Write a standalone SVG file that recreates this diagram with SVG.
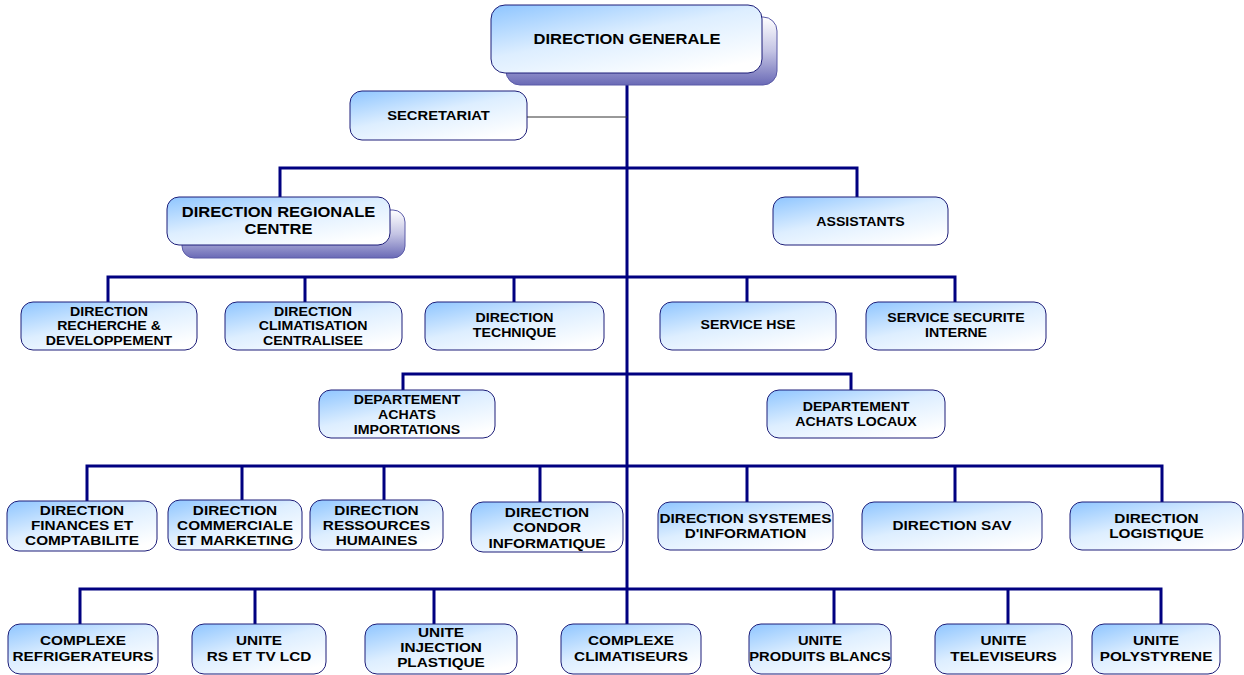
<svg xmlns="http://www.w3.org/2000/svg" width="1244" height="675" viewBox="0 0 1244 675">
<defs>
<linearGradient id="gBox" x1="0" y1="0" x2="0.75" y2="1">
<stop offset="0" stop-color="#8ec5ff"/>
<stop offset="0.5" stop-color="#ddeeff"/>
<stop offset="1" stop-color="#ffffff"/>
</linearGradient>
<linearGradient id="gShadow" x1="0" y1="0" x2="0" y2="1">
<stop offset="0" stop-color="#ffffff"/>
<stop offset="0.5" stop-color="#c4c4e4"/>
<stop offset="1" stop-color="#6a6ab6"/>
</linearGradient>
</defs>
<style>
.box{fill:url(#gBox);stroke:#1d1d78;stroke-width:1}
.shadow{fill:url(#gShadow);stroke:#5a5aa8;stroke-width:1}
.t{font-family:"Liberation Sans",Arial,sans-serif;font-weight:bold;fill:#000;text-anchor:middle}
.f12{font-size:12px}
.f125{font-size:12.5px}
.f13{font-size:13px}
.f14{font-size:14px}
.bus{fill:none;stroke:#000080;stroke-width:3;stroke-linejoin:miter}
.thin{fill:none;stroke:#333;stroke-width:1}
</style>
<g id="connectors">
<path class="bus" d="M627 73 V624"/>
<path class="thin" d="M527 117 H627"/>
<path class="bus" d="M280 197 V168 H857 V197"/>
<path class="bus" d="M108 302 V277 H955 V302 M305 277 V302 M514 277 V302 M747 277 V302"/>
<path class="bus" d="M403 390 V374 H851 V390"/>
<path class="bus" d="M87 502 V466 H1162 V502 M242 466 V500 M384 466 V500 M540 466 V502 M747 466 V502 M955 466 V502"/>
<path class="bus" d="M80 624 V589 H1161 V624 M255 589 V624 M434 589 V624 M834 589 V624 M1008 589 V624"/>
</g>
<g id="n-dg">
<rect class="shadow" x="506" y="17" width="271" height="68" rx="14"/>
<rect class="box" x="491" y="5" width="271" height="68" rx="14"/>
<g transform="translate(627 0) scale(1.18 1)"><text class="t f14" x="0" y="44">DIRECTION GENERALE</text></g>
</g>
<g id="n-sec">
<rect class="box" x="350" y="91" width="177" height="49" rx="12"/>
<g transform="translate(438.5 0) scale(1.18 1)"><text class="t f125" x="0" y="120">SECRETARIAT</text></g>
</g>
<g id="n-drc">
<rect class="shadow" x="182" y="210" width="223" height="48" rx="12"/>
<rect class="box" x="167" y="197" width="223" height="48" rx="12"/>
<g transform="translate(278.5 0) scale(1.18 1)"><text class="t f14" x="0" y="217">DIRECTION REGIONALE</text><text class="t f14" x="0" y="234">CENTRE</text></g>
</g>
<g id="n-ast">
<rect class="box" x="773" y="197" width="175" height="48" rx="12"/>
<g transform="translate(860.5 0) scale(1.18 1)"><text class="t f12" x="0" y="226">ASSISTANTS</text></g>
</g>
<g id="n-rd">
<rect class="box" x="21" y="302" width="176" height="48" rx="12"/>
<g transform="translate(109 0) scale(1.18 1)"><text class="t f12" x="0" y="316">DIRECTION</text><text class="t f12" x="0" y="330.5">RECHERCHE &amp;</text><text class="t f12" x="0" y="345">DEVELOPPEMENT</text></g>
</g>
<g id="n-clim">
<rect class="box" x="225" y="302" width="177" height="48" rx="12"/>
<g transform="translate(313 0) scale(1.18 1)"><text class="t f12" x="0" y="316">DIRECTION</text><text class="t f12" x="0" y="330.5">CLIMATISATION</text><text class="t f12" x="0" y="345">CENTRALISEE</text></g>
</g>
<g id="n-tech">
<rect class="box" x="425" y="302" width="179" height="48" rx="12"/>
<g transform="translate(514.5 0) scale(1.18 1)"><text class="t f12" x="0" y="322">DIRECTION</text><text class="t f12" x="0" y="337">TECHNIQUE</text></g>
</g>
<g id="n-hse">
<rect class="box" x="660" y="302" width="176" height="48" rx="12"/>
<g transform="translate(748 0) scale(1.18 1)"><text class="t f12" x="0" y="329">SERVICE HSE</text></g>
</g>
<g id="n-ssi">
<rect class="box" x="866" y="302" width="180" height="48" rx="12"/>
<g transform="translate(956 0) scale(1.18 1)"><text class="t f12" x="0" y="322">SERVICE SECURITE</text><text class="t f12" x="0" y="337">INTERNE</text></g>
</g>
<g id="n-dai">
<rect class="box" x="319" y="390" width="176" height="48" rx="12"/>
<g transform="translate(407 0) scale(1.18 1)"><text class="t f12" x="0" y="404">DEPARTEMENT</text><text class="t f12" x="0" y="419">ACHATS</text><text class="t f12" x="0" y="434">IMPORTATIONS</text></g>
</g>
<g id="n-dal">
<rect class="box" x="767" y="390" width="178" height="48" rx="12"/>
<g transform="translate(856 0) scale(1.18 1)"><text class="t f12" x="0" y="411">DEPARTEMENT</text><text class="t f12" x="0" y="426">ACHATS LOCAUX</text></g>
</g>
<g id="n-fin">
<rect class="box" x="7" y="501" width="150" height="50" rx="12"/>
<g transform="translate(82 0) scale(1.18 1)"><text class="t f13" x="0" y="515">DIRECTION</text><text class="t f13" x="0" y="530">FINANCES ET</text><text class="t f13" x="0" y="545.5">COMPTABILITE</text></g>
</g>
<g id="n-com">
<rect class="box" x="168" y="500" width="134" height="50" rx="12"/>
<g transform="translate(235 0) scale(1.18 1)"><text class="t f13" x="0" y="515">DIRECTION</text><text class="t f13" x="0" y="530">COMMERCIALE</text><text class="t f13" x="0" y="545.5">ET MARKETING</text></g>
</g>
<g id="n-rh">
<rect class="box" x="310" y="500" width="133" height="50" rx="12"/>
<g transform="translate(376.5 0) scale(1.18 1)"><text class="t f13" x="0" y="515">DIRECTION</text><text class="t f13" x="0" y="530">RESSOURCES</text><text class="t f13" x="0" y="545.5">HUMAINES</text></g>
</g>
<g id="n-cond">
<rect class="box" x="471" y="502" width="152" height="50" rx="12"/>
<g transform="translate(547 0) scale(1.18 1)"><text class="t f13" x="0" y="517">DIRECTION</text><text class="t f13" x="0" y="532.5">CONDOR</text><text class="t f13" x="0" y="548">INFORMATIQUE</text></g>
</g>
<g id="n-si">
<rect class="box" x="658" y="502" width="175" height="48" rx="12"/>
<g transform="translate(745.5 0) scale(1.18 1)"><text class="t f13" x="0" y="523">DIRECTION SYSTEMES</text><text class="t f13" x="0" y="538">D'INFORMATION</text></g>
</g>
<g id="n-sav">
<rect class="box" x="862" y="502" width="180" height="48" rx="12"/>
<g transform="translate(952 0) scale(1.18 1)"><text class="t f13" x="0" y="530">DIRECTION SAV</text></g>
</g>
<g id="n-log">
<rect class="box" x="1070" y="502" width="173" height="48" rx="12"/>
<g transform="translate(1156.5 0) scale(1.18 1)"><text class="t f13" x="0" y="523">DIRECTION</text><text class="t f13" x="0" y="538">LOGISTIQUE</text></g>
</g>
<g id="n-crf">
<rect class="box" x="8" y="624" width="150" height="50" rx="12"/>
<g transform="translate(83 0) scale(1.18 1)"><text class="t f13" x="0" y="645">COMPLEXE</text><text class="t f13" x="0" y="661">REFRIGERATEURS</text></g>
</g>
<g id="n-rs">
<rect class="box" x="192" y="624" width="134" height="50" rx="12"/>
<g transform="translate(259 0) scale(1.18 1)"><text class="t f13" x="0" y="645">UNITE</text><text class="t f13" x="0" y="661">RS ET TV LCD</text></g>
</g>
<g id="n-inj">
<rect class="box" x="365" y="624" width="152" height="50" rx="12"/>
<g transform="translate(441 0) scale(1.18 1)"><text class="t f13" x="0" y="637">UNITE</text><text class="t f13" x="0" y="652">INJECTION</text><text class="t f13" x="0" y="667">PLASTIQUE</text></g>
</g>
<g id="n-cli">
<rect class="box" x="561" y="624" width="140" height="50" rx="12"/>
<g transform="translate(631 0) scale(1.18 1)"><text class="t f13" x="0" y="645">COMPLEXE</text><text class="t f13" x="0" y="661">CLIMATISEURS</text></g>
</g>
<g id="n-pb">
<rect class="box" x="749" y="624" width="142" height="50" rx="12"/>
<g transform="translate(820 0) scale(1.18 1)"><text class="t f125" x="0" y="645">UNITE</text><text class="t f125" x="0" y="661">PRODUITS BLANCS</text></g>
</g>
<g id="n-tv">
<rect class="box" x="935" y="624" width="137" height="50" rx="12"/>
<g transform="translate(1003.5 0) scale(1.18 1)"><text class="t f13" x="0" y="645">UNITE</text><text class="t f13" x="0" y="661">TELEVISEURS</text></g>
</g>
<g id="n-ps">
<rect class="box" x="1092" y="624" width="128" height="50" rx="12"/>
<g transform="translate(1156 0) scale(1.18 1)"><text class="t f13" x="0" y="645">UNITE</text><text class="t f13" x="0" y="661">POLYSTYRENE</text></g>
</g>
</svg>
